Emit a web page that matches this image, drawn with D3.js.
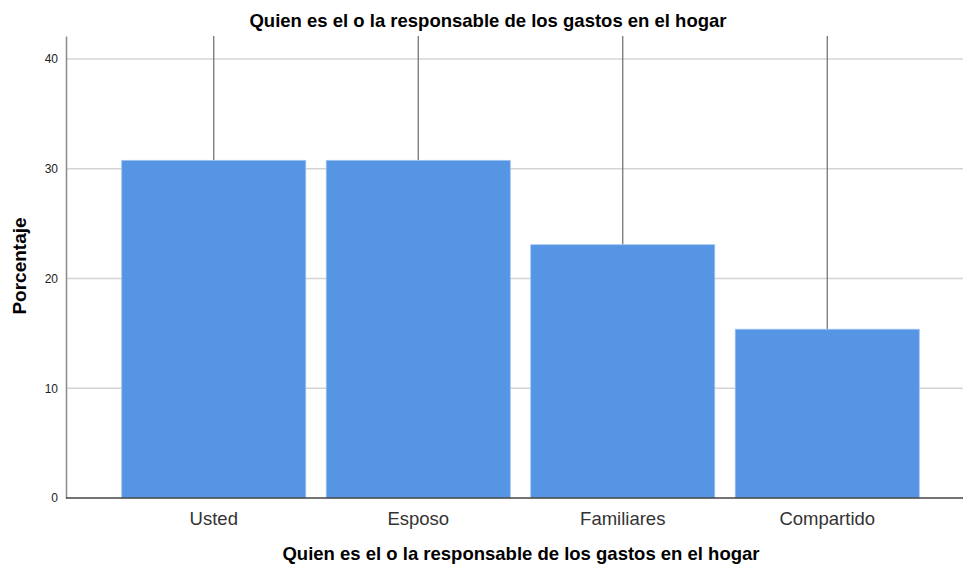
<!DOCTYPE html>
<html>
<head>
<meta charset="utf-8">
<script src="https://cdn.jsdelivr.net/npm/d3@7"></script>
<style>
  body { margin: 0; background: #fff; }
</style>
</head>
<body>
<div id="chart"></div>
<script>
// data
var categories = ["Usted", "Esposo", "Familiares", "Compartido"];
var porcentajes = [30.77, 30.77, 23.08, 15.38];
var yTicks = [0, 10, 20, 30, 40];

const WIDTH = 963;
const HEIGHT = 565;

const PLOT_LEFT = 66;
const PLOT_RIGHT = 963;
const PLOT_TOP = 36;
const PLOT_BOTTOM = 498;

const FONT = "Arial, 'Liberation Sans', sans-serif";

var svg = d3.select("#chart")
    .append("svg")
    .attr("width", WIDTH)
    .attr("height", HEIGHT);

svg.append("rect")
    .attr("width", WIDTH)
    .attr("height", HEIGHT)
    .attr("fill", "#ffffff");

var xScale = d3.scaleBand()
    .domain(categories)
    .range([111.5, 929.5])
    .paddingInner(0.1)
    .paddingOuter(0.05);

var yScale = d3.scaleLinear()
    .domain([0, 42.1])
    .range([PLOT_BOTTOM, PLOT_TOP]);

// gridlines
svg.append("g")
    .selectAll("line")
    .data(yTicks.filter(function (d) { return d > 0; }))
    .enter()
    .append("line")
    .attr("x1", PLOT_LEFT)
    .attr("x2", PLOT_RIGHT)
    .attr("y1", function (d) { return yScale(d); })
    .attr("y2", function (d) { return yScale(d); })
    .attr("stroke", "#d4d4d4")
    .attr("stroke-width", 1.5);

// error bars (upper part, clipped at the top of the plot)
svg.append("g")
    .selectAll("line")
    .data(porcentajes)
    .enter()
    .append("line")
    .attr("x1", function (d, i) { return xScale(categories[i]) + xScale.bandwidth() / 2; })
    .attr("x2", function (d, i) { return xScale(categories[i]) + xScale.bandwidth() / 2; })
    .attr("y1", function (d) { return yScale(d); })
    .attr("y2", PLOT_TOP)
    .attr("stroke", "#6b6b6b")
    .attr("stroke-width", 1.2);

// bars
svg.append("g")
    .selectAll("rect")
    .data(porcentajes)
    .enter()
    .append("rect")
    .attr("x", function (d, i) { return xScale(categories[i]); })
    .attr("y", function (d) { return yScale(d); })
    .attr("width", xScale.bandwidth())
    .attr("height", function (d) { return PLOT_BOTTOM - yScale(d); })
    .attr("fill", "#5595e3")
    .attr("stroke", "#9ec3f0")
    .attr("stroke-width", 0.8);

// y axis
var yAxis = svg.append("g")
    .attr("transform", "translate(" + PLOT_LEFT + ",0)")
    .call(d3.axisLeft(yScale).tickValues(yTicks).tickSize(0).tickPadding(8));
yAxis.select(".domain").attr("stroke", "#8a8a8a").attr("stroke-width", 1.5);
yAxis.selectAll("text")
    .style("font-family", FONT)
    .style("font-size", "12px")
    .attr("fill", "#222");

// x axis
var xAxis = svg.append("g")
    .attr("transform", "translate(0," + PLOT_BOTTOM + ")")
    .call(d3.axisBottom(xScale).tickSize(0).tickPadding(14));
xAxis.select(".domain").remove();
xAxis.selectAll("text")
    .style("font-family", FONT)
    .style("font-size", "18.5px")
    .attr("fill", "#333");
svg.append("line")
    .attr("x1", PLOT_LEFT)
    .attr("x2", PLOT_RIGHT)
    .attr("y1", PLOT_BOTTOM)
    .attr("y2", PLOT_BOTTOM)
    .attr("stroke", "#444")
    .attr("stroke-width", 1.5);

// Title
svg.append("text")
    .attr("x", 488)
    .attr("y", 27)
    .attr("text-anchor", "middle")
    .style("font-family", FONT)
    .style("font-weight", "bold")
    .style("font-size", "18.5px")
    .text("Quien es el o la responsable de los gastos en el hogar");

// x title
svg.append("text")
    .attr("x", 521)
    .attr("y", 560)
    .attr("text-anchor", "middle")
    .style("font-family", FONT)
    .style("font-weight", "bold")
    .style("font-size", "18.5px")
    .text("Quien es el o la responsable de los gastos en el hogar");

// y title
svg.append("text")
    .attr("transform", "translate(26,266) rotate(-90)")
    .attr("text-anchor", "middle")
    .style("font-family", FONT)
    .style("font-weight", "bold")
    .style("font-size", "19px")
    .text("Porcentaje");
</script>
</body>
</html>
